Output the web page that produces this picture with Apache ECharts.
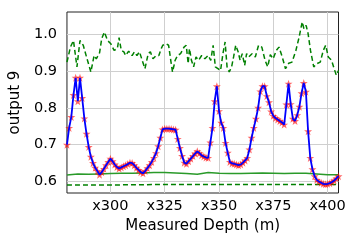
<!DOCTYPE html>
<html>
<head>
<meta charset="utf-8">
<script src="https://cdn.jsdelivr.net/npm/echarts@6/dist/echarts.min.js"></script>
<style>html,body{margin:0;padding:0;background:#fff}#c{width:358px;height:244px}</style>
</head>
<body>
<div id="c"></div>
<script>
// Blue measured curve (depth step 1 m, 280..405)
var depthStart = 280;
var blueVals = [
0.699,0.745,0.775,0.835,0.882,0.818,0.882,0.827,0.771,0.729,
0.693,0.666,0.649,0.636,0.627,0.617,0.624,0.633,0.643,0.652,
0.661,0.654,0.645,0.638,0.634,0.637,0.640,0.643,0.646,0.650,
0.649,0.643,0.636,0.630,0.624,0.621,0.627,0.635,0.643,0.652,
0.663,0.676,0.695,0.718,0.741,0.743,0.743,0.743,0.742,0.741,
0.740,0.715,0.690,0.668,0.650,0.647,0.654,0.661,0.668,0.675,
0.681,0.676,0.670,0.667,0.664,0.663,0.705,0.745,0.818,0.859,
0.791,0.759,0.745,0.704,0.677,0.652,0.648,0.647,0.645,0.643,
0.645,0.650,0.656,0.663,0.686,0.718,0.745,0.770,0.800,0.845,
0.859,0.859,0.832,0.815,0.790,0.778,0.772,0.768,0.764,0.760,
0.754,0.809,0.866,0.810,0.770,0.764,0.780,0.803,0.840,0.868,
0.844,0.736,0.663,0.632,0.613,0.603,0.598,0.595,0.592,0.591,
0.592,0.594,0.597,0.601,0.607,0.613];

// Upper green dashed curve
var upperDepth = [280,281.6,283,284.6,286,287.5,289,291,292.5,293.5,295,296,297.2,298.7,300.2,301.7,303.2,304,305,306.2,307,308.4,310,311,
312.2,313.4,314.4,315.9,317.4,318.4,319.6,321.1,322.3,323.4,324.1,325.6,326.8,327.9,328.6,329.8,330.9,332.3,333.9,334.9,335.8,336.4,337.3,338.3,339.4,340.6,342,
343.5,345,346.2,347.3,348.3,349.5,350.7,351.8,352.8,353.7,354.7,355.8,356.7,357.7,358.8,359.7,360.7,361.8,362.7,363.7,365.2,366.7,368.2,369.7,371.2,372.4,373.6,
374.9,376.4,377.6,379.1,380.6,382.1,383.6,385.4,386.9,388.3,389.1,390.1,391,392.1,393.6,395.1,396.6,398,399.1,400.3,401.8,403,404,405];
var upperVals = [0.925,0.966,0.984,0.912,0.984,0.971,0.939,0.898,0.943,0.934,0.950,0.989,1.007,0.984,0.975,0.957,0.962,0.992,0.957,0.953,0.943,0.955,0.943,0.953,
0.943,0.953,0.934,0.907,0.948,0.953,0.934,0.943,0.943,0.962,0.971,0.975,0.971,0.925,0.898,0.930,0.943,0.948,0.966,0.971,0.921,0.962,0.930,0.912,0.939,0.930,0.943,
0.934,0.943,0.930,0.971,0.912,0.907,0.902,0.948,0.980,0.912,0.898,0.912,0.939,0.971,0.953,0.930,0.948,0.916,0.948,0.939,0.948,0.939,0.971,0.966,0.930,0.912,0.945,
0.934,0.957,0.966,0.939,0.907,0.922,0.925,0.957,0.994,1.035,1.016,1.025,1.003,0.957,0.912,0.921,0.925,0.957,0.971,0.939,0.930,0.907,0.889,0.902];

// Green solid curve
var midDepth = [280,285,290,295,300,305,310,315,320,325,330,335,340,345,350,355,360,365,370,375,380,385,390,395,400,405];
var midVals = [0.616,0.619,0.618,0.619,0.620,0.621,0.621,0.622,0.623,0.623,0.622,0.620,0.618,0.623,0.621,0.620,0.620,0.621,0.622,0.621,0.620,0.621,0.621,0.619,0.617,0.617];

// Lower green dashed curve
var lowDepth = [280,300,320,340,360,380,405];
var lowVals = [0.589,0.589,0.590,0.590,0.590,0.590,0.590];

var xTicks = [300,325,350,375,400];
var yTicks = [0.6,0.7,0.8,0.9,1.0];

function pairs(xs, ys){ return xs.map(function(x,i){ return [x, ys[i]]; }); }
var bluePairs = blueVals.map(function(v,i){ return [depthStart + i, v]; });

var star = 'path://M0,-10 L2.4,-3.1 L9.5,-3.1 L3.8,1.2 L5.9,8.1 L0,4 L-5.9,8.1 L-3.8,1.2 L-9.5,-3.1 L-2.4,-3.1 Z';
var FONT = 'DejaVu Sans';

var chart = echarts.init(document.getElementById('c'), null, {renderer:'canvas'});
chart.setOption({
  animation:false,
  backgroundColor:'#fff',
  grid:{left:59.5, right:19.5, top:12, bottom:51, show:true, borderColor:'#222', borderWidth:1, backgroundColor:'transparent'},
  xAxis:{
    type:'value', min:280, max:405,
    name:'Measured Depth (m)', nameLocation:'middle', nameGap:25,
    nameTextStyle:{fontFamily:FONT, fontSize:15, color:'#000'},
    axisLine:{show:false},
    axisTick:{show:false, customValues:xTicks},
    axisLabel:{customValues:xTicks, formatter:function(v){return 'x'+v;}, fontFamily:FONT, fontSize:14.5, color:'#000', margin:6},
    splitLine:{show:true, lineStyle:{color:'#cfcfcf', width:1}}
  },
  yAxis:{
    type:'value', min:0.567, max:1.062,
    name:'output 9', nameLocation:'middle', nameGap:42, nameRotate:90,
    nameTextStyle:{fontFamily:FONT, fontSize:15, color:'#000'},
    axisLine:{show:false},
    axisTick:{show:false, customValues:yTicks},
    axisLabel:{customValues:yTicks, formatter:function(v){return v.toFixed(1);}, fontFamily:FONT, fontSize:14.5, color:'#000', margin:10},
    splitLine:{show:true, lineStyle:{color:'#cfcfcf', width:1}}
  },
  series:[
    {type:'line', data:pairs(upperDepth, upperVals), showSymbol:false, lineStyle:{color:'#008000', width:1.5, type:[5,3]}, z:3},
    {type:'line', data:pairs(midDepth, midVals), showSymbol:false, lineStyle:{color:'#2a9a2a', width:1.5}, z:3},
    {type:'line', data:pairs(lowDepth, lowVals), showSymbol:false, lineStyle:{color:'#008000', width:1.5, type:[5,3]}, z:3},
    {type:'scatter', data:bluePairs, symbol:star, symbolSize:8, itemStyle:{color:'rgba(255,0,0,0.75)'}, z:4},
    {type:'line', data:bluePairs, showSymbol:false, lineStyle:{color:'#0000ff', width:1.8}, z:5}
  ]
});
</script>
</body>
</html>
